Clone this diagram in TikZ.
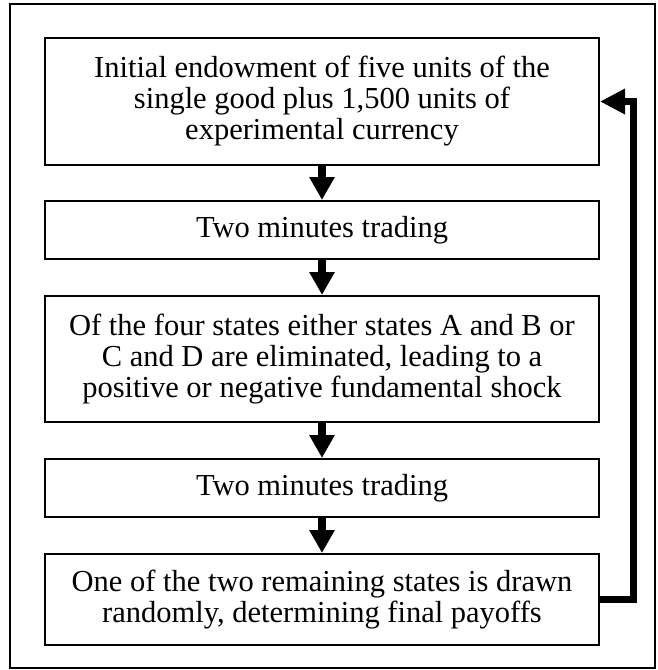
\documentclass[tikz,border=0pt]{standalone}
\usepackage{fontspec}
\setmainfont{Liberation Serif}
\usetikzlibrary{arrows.meta}
\usetikzlibrary{positioning}

\begin{document}
\begin{tikzpicture}[x=1pt,y=-1pt,line join=miter,
    stage/.style={draw,line width=2pt,minimum width=554pt,inner sep=0pt,align=center,
        font=\fontsize{30.5}{31}\selectfont},
    flow/.style={-{Triangle[width=24pt,length=23pt]},line width=8pt}]

    % white background, with a black frame
    \useasboundingbox (0,0) rectangle (657,670);
    \draw [line width=2pt] (10,4) rectangle (655,668);

    % the five stages
    \node[stage,minimum height=127pt] (endow) at (322,101.5)
        {Initial endowment of five units of the\\single good plus 1,500 units of\\experimental currency};
    \node[stage,minimum height=58pt,below=34pt of endow] (trade1) {Two minutes trading};
    \node[stage,minimum height=126pt,below=35pt of trade1] (shock)
        {Of the four states either states A and B or\\C and D are eliminated, leading to a\\positive or negative fundamental shock};
    \node[stage,minimum height=58pt,below=35pt of shock] (trade2) {Two minutes trading};
    \node[stage,minimum height=91pt,below=35pt of trade2] (payoff)
        {One of the two remaining states is drawn\\randomly, determining final payoffs};

    % arrows down
    \foreach \a/\b in {endow/trade1,trade1/shock,shock/trade2,trade2/payoff}
        \draw [flow] (\a) -- (\b);

    % back to the start
    \coordinate (back) at (633,0);
    \draw [-{Triangle[width=24pt,length=25pt]},line width=7pt]
        (payoff.east) -- (payoff.east -| back) -- (endow.east -| back) -- (endow.east);

\end{tikzpicture}
\end{document}
